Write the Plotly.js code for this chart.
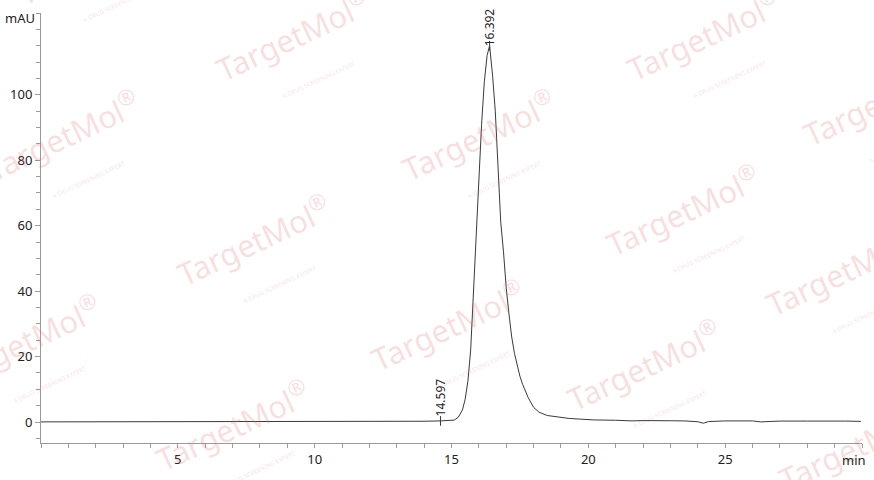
<!DOCTYPE html>
<html>
<head>
<meta charset="utf-8">
<script src="https://cdn.plot.ly/plotly-3.0.1.min.js"></script>
<style>
  html, body { margin: 0; padding: 0; background: #ffffff; }
  #chart { width: 874px; height: 480px; }
</style>
</head>
<body>
<div id="chart"></div>
<script>
// retention time (min) and detector signal (mAU)
const times = [0, 2, 4, 6, 8, 10, 12, 13.5, 13.6, 14.0, 14.6, 14.9, 15.1, 15.25, 15.4, 15.5,
  15.6, 15.7, 15.8, 15.9, 16.0, 16.1, 16.2, 16.3, 16.392, 16.5, 16.6, 16.7, 16.8, 16.9,
  17.0, 17.1, 17.2, 17.3, 17.4, 17.5, 17.6, 17.8, 18.0, 18.2, 18.5, 18.9, 19.3, 19.7,
  20.2, 21.0, 21.6, 22.0, 22.5, 23.0, 23.5, 24.0, 24.2, 24.4, 25.0, 25.5, 26.0, 26.3,
  26.6, 27.0, 28.0, 29.0, 29.2, 29.4, 29.96];
const signal = [0.05, 0.05, 0.05, 0.05, 0.05, 0.05, 0.05, 0.05, 0.25, 0.25, 0.35, 0.45, 0.6, 1.5, 3.7, 7,
  12.5, 22, 40, 57, 74, 91, 104, 112, 115, 106, 95, 76, 61, 52,
  41, 33, 26, 21, 17.5, 14, 11.5, 7.5, 4.5, 3, 2, 1.5, 1.1, 0.9,
  0.65, 0.55, 0.35, 0.45, 0.5, 0.4, 0.35, 0.1, -0.35, 0.15, 0.35, 0.3, 0.35, 0.05,
  0.25, 0.3, 0.3, 0.35, 0.45, 0.3, 0.2];

// integrated peaks: retention time, label height
const peakTimes = [14.597, 16.392];
const peakLabels = ['14.597', '16.392'];
const peakHeights = [0.35, 115];

const yTickVals = [0, 20, 40, 60, 80, 100];
const xTickVals = [5, 10, 15, 20, 25];

// watermark centres in paper coords
const markX = [0.072, 0.315, 0.815, 0.035, 0.541, 1.03, 0.267, 0.79, 0.985, -0.013, 0.504, 0.742, 0.242, 1.0];
const markY = [1.09, 0.914, 0.914, 0.681, 0.681, 0.763, 0.437, 0.507, 0.367, 0.205, 0.24, 0.147, 0.007, -0.04];

const axisColor = '#9a9a9a';
const fontFamily = '"Noto Sans", "Open Sans", sans-serif';
const textFont = { family: fontFamily, size: 13, color: '#222222' };

const trace = {
  x: times,
  y: signal,
  type: 'scatter',
  mode: 'lines',
  line: { color: '#3a3a3a', width: 1 },
  hoverinfo: 'x+y'
};

const annotations = [];

markX.forEach((mx, i) => {
  annotations.push({
    x: mx,
    y: markY[i],
    xref: 'paper',
    yref: 'paper',
    xanchor: 'center',
    yanchor: 'middle',
    text: 'TargetMol<sup>®</sup><br><span style="font-size:6px">      A DRUG SCREENING EXPERT</span>',
    textangle: -25,
    showarrow: false,
    font: { family: fontFamily, size: 31, color: 'rgba(232,105,105,0.22)' }
  });
});

peakTimes.forEach((t, i) => {
  annotations.push({
    x: t,
    y: peakHeights[i],
    xref: 'x',
    yref: 'y',
    text: peakLabels[i],
    textangle: -90,
    showarrow: false,
    xanchor: 'center',
    yanchor: 'bottom',
    yshift: i === 0 ? 3 : -3,
    font: { family: fontFamily, size: 12, color: '#222222' }
  });
});

annotations.push({
  x: 0, y: 1, xref: 'paper', yref: 'paper',
  text: 'mAU', showarrow: false, xanchor: 'right', yanchor: 'middle',
  xshift: -4, yshift: -5, font: textFont
});
annotations.push({
  x: 1, y: 0, xref: 'paper', yref: 'paper',
  text: 'min', showarrow: false, xanchor: 'right', yanchor: 'top',
  xshift: 6, yshift: -6, font: textFont
});

const shapes = peakTimes.map((t, i) => ({
  type: 'line',
  xref: 'x',
  yref: 'y',
  x0: t, x1: t,
  y0: peakHeights[i] - 1.5, y1: peakHeights[i] + 1.5,
  line: { color: '#3a3a3a', width: 1 }
}));

const layout = {
  width: 874,
  height: 480,
  margin: { l: 41, r: 12, t: 13, b: 37 },
  paper_bgcolor: '#ffffff',
  plot_bgcolor: '#ffffff',
  showlegend: false,
  font: textFont,
  xaxis: {
    range: [0, 30],
    tickvals: xTickVals,
    ticks: 'outside',
    ticklen: 4,
    tickcolor: axisColor,
    showline: true,
    linecolor: axisColor,
    linewidth: 1,
    showgrid: false,
    zeroline: false,
    tickfont: textFont,
    minor: { dtick: 1, ticks: 'outside', ticklen: 4, tickcolor: axisColor, showgrid: false }
  },
  yaxis: {
    range: [-6.4, 125],
    tickvals: yTickVals,
    ticks: 'outside',
    ticklen: 5,
    tickcolor: axisColor,
    showline: true,
    linecolor: axisColor,
    linewidth: 1,
    showgrid: false,
    zeroline: false,
    tickfont: textFont,
    minor: { dtick: 5, ticks: 'outside', ticklen: 4, tickcolor: axisColor, showgrid: false }
  },
  annotations: annotations,
  shapes: shapes
};

Plotly.newPlot('chart', [trace], layout, { displayModeBar: false, staticPlot: true });
</script>
</body>
</html>
